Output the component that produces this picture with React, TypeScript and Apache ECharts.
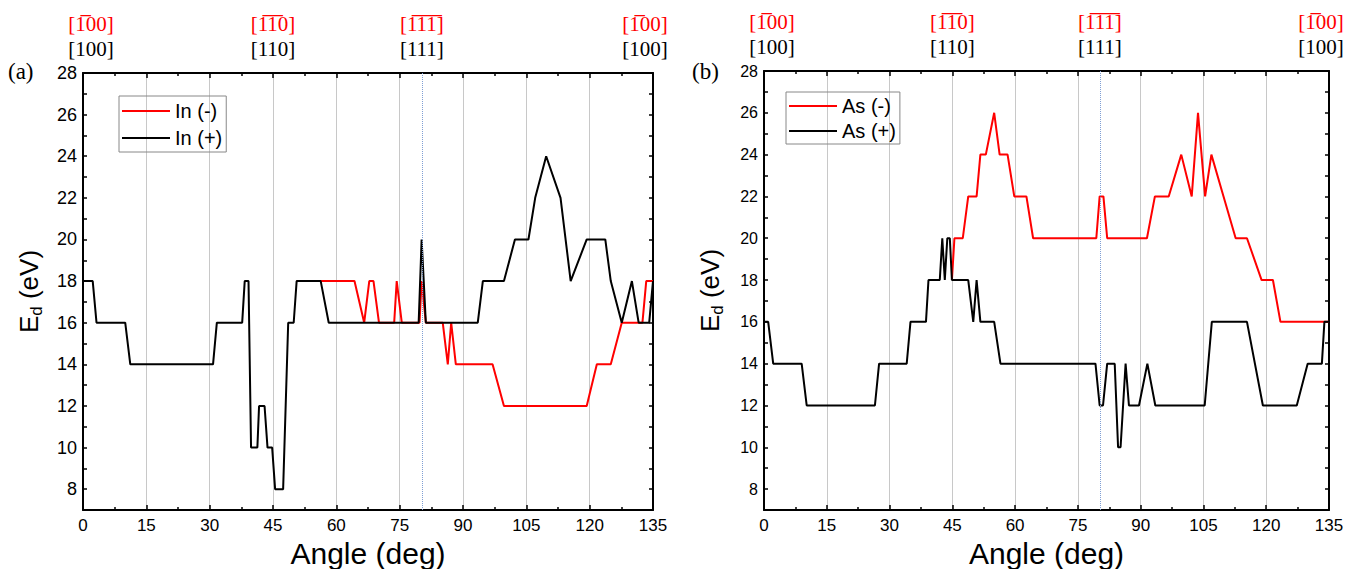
import React, { useEffect, useRef } from 'react';
import * as echarts from 'echarts';

// Panel (a): In  (red drawn only where it departs from black; black lies on top elsewhere)
const inMinus: [number, number][] = [
  [50.6, 18], [64.3, 18], [66.6, 16], [67.8, 18], [68.8, 18], [70.1, 16], [73.7, 16], [74.3, 18], [75.5, 16], [79.7, 16],
  [80.2, 18], [81.2, 16], [85.2, 16], [86.4, 14], [87.2, 16], [88.3, 14], [97, 14], [99.7, 12], [119.3, 12], [121.7, 14],
  [125, 14], [127.6, 16], [132.5, 16], [133.4, 18], [135, 18],
];
const inPlus: [number, number][] = [
  [0, 18], [2.3, 18], [3.2, 16], [10, 16], [11.2, 14], [30.8, 14], [31.7, 16], [37.7, 16], [38.3, 18], [39.2, 18],
  [39.8, 10], [41.3, 10], [41.7, 12], [43, 12], [43.7, 10], [44.8, 10], [45.5, 8], [47.4, 8], [48.6, 16], [49.9, 16],
  [50.6, 18], [56.3, 18], [58.2, 16], [79.5, 16], [80.2, 20], [81.2, 16], [93.5, 16], [94.7, 18], [99.7, 18], [102.3, 20],
  [105.5, 20], [107.1, 22], [109.7, 24], [113.1, 22], [115.5, 18], [119.3, 20], [123.7, 20], [125, 18], [127.6, 16], [130, 18],
  [131.6, 16], [134.1, 16], [135, 18],
];

// Panel (b): As
const asMinus: [number, number][] = [
  [44.9, 18], [45.5, 20], [47.5, 20], [48.8, 22],
  [50.8, 22], [51.7, 24], [53, 24], [55, 26], [56.3, 24], [58.2, 24], [59.8, 22], [62.7, 22], [64.3, 20], [79.4, 20],
  [80.2, 22], [81.1, 22], [82, 20], [91.5, 20], [93.4, 22], [96.7, 22], [99.7, 24], [102.2, 22], [103.7, 26], [105.4, 22],
  [106.9, 24], [109.8, 22], [112.7, 20], [115.4, 20], [118.9, 18], [121.6, 18], [123.4, 16], [135, 16],
];
const asPlus: [number, number][] = [
  [0, 16], [1, 16], [2.2, 14], [9, 14], [10.2, 12], [26.5, 12], [27.5, 14], [34.1, 14], [35, 16], [38.7, 16],
  [39.3, 18], [42, 18], [42.6, 20], [43.2, 18], [43.8, 20], [44.4, 20], [44.9, 18], [48.8, 18], [50, 16], [50.8, 18],
  [51.7, 16], [55, 16], [56.5, 14], [79.2, 14], [80.2, 12], [81, 12], [82, 14], [83.8, 14], [84.6, 10], [85.2, 10],
  [86.4, 14], [87.2, 12], [89.6, 12], [91.6, 14], [93.5, 12], [105.3, 12], [107, 16], [115.4, 16], [119.2, 12], [127.3, 12],
  [129.9, 14], [133.3, 14], [133.9, 16], [135, 16],
];

const dirAngles = [0, 45, 80.26, 135];
const dirLabelsMinus = ['[1\u030500]', '[1\u03051\u03050]', '[1\u03051\u03051\u0305]', '[1\u030500]'];
const dirLabelsPlus = ['[100]', '[110]', '[111]', '[100]'];
const panelTags = ['(a)', '(b)'];
const legendNames = [['In (-)', 'In (+)'], ['As (-)', 'As (+)']];

const SANS = 'Liberation Sans';
const SERIF = 'Liberation Serif';

export default function App() {
  const ref = useRef<HTMLDivElement>(null);
  useEffect(() => {
    if (!ref.current) return;
    const chart = echarts.init(ref.current, undefined, { renderer: 'svg' });

    const grids = [
      { left: 83, width: 570, top: 73, bottom: 59 },
      { left: 764, width: 565, top: 71, bottom: 59 },
    ];
    const yLabelSize = [18, 16];
    const xAxes: any[] = [];
    const yAxes: any[] = [];
    const series: any[] = [];
    const axisLine = { show: true, onZero: false, lineStyle: { color: '#000', width: 2 } };
    const tickLine = { color: '#000', width: 1.5 };
    const rStyle = { color: '#ff0000', fontSize: 21, fontFamily: SERIF, lineHeight: 26 };
    const bStyle = { color: '#000', fontSize: 21, fontFamily: SERIF, lineHeight: 24 };

    grids.forEach((_, g) => {
      xAxes.push({
        gridIndex: g, type: 'value', min: 0, max: 135, interval: 15, position: 'bottom',
        axisLine, axisTick: { inside: true, length: 5, lineStyle: tickLine },
        minorTick: { show: true, splitNumber: 2, length: 3, lineStyle: tickLine },
        axisLabel: { fontSize: 17, color: '#000', fontFamily: SANS, margin: 7 },
        splitLine: { show: true, lineStyle: { color: '#c8c8c8', width: 1 } },
        name: 'Angle (deg)', nameLocation: 'middle', nameGap: 25,
        nameTextStyle: { fontSize: 30, color: '#000', fontFamily: SANS },
      });
      xAxes.push({
        gridIndex: g, type: 'value', min: 0, max: 135, interval: 15, position: 'top',
        axisLine, axisTick: { inside: true, length: 5, lineStyle: tickLine },
        minorTick: { show: true, splitNumber: 2, length: 3, lineStyle: tickLine },
        axisLabel: { show: false }, splitLine: { show: false },
      });
      xAxes.push({
        gridIndex: g, type: 'value', min: 0, max: 135, position: 'top',
        axisLine: { show: false }, axisTick: { show: false }, splitLine: { show: false },
        axisLabel: {
          customValues: dirAngles, showMinLabel: true, showMaxLabel: true, hideOverlap: false, margin: 12,
          formatter: (v: number) => {
            let i = dirAngles.findIndex((a) => Math.abs(a - v) < 1e-6);
            if (i < 0) i = 0;
            const k = i === 0 ? 'L' : i === dirAngles.length - 1 ? 'R' : 'C';
            return `{r${k}|${dirLabelsMinus[i]}}\n{b${k}|${dirLabelsPlus[i]}}`;
          },
          rich: {
            rC: rStyle, bC: bStyle,
            rL: { ...rStyle, padding: [0, 0, 0, 16] }, bL: { ...bStyle, padding: [0, 0, 0, 16] },
            rR: { ...rStyle, padding: [0, 16, 0, 0] }, bR: { ...bStyle, padding: [0, 16, 0, 0] },
          },
        },
      });
      const yBase = { gridIndex: g, type: 'value', min: 7, max: 28, interval: 1, splitLine: { show: false } };
      yAxes.push({
        ...yBase, position: 'left', axisLine,
        axisTick: { inside: true, length: 4, lineStyle: tickLine },
        axisLabel: {
          fontSize: yLabelSize[g], color: '#000', fontFamily: SANS, margin: 6,
          formatter: (v: number) => (v % 2 === 0 ? String(v) : ''),
        },
        name: '{e|E}{s|d}{e| (eV)}', nameLocation: 'middle', nameRotate: 90, nameGap: 38,
        nameTextStyle: {
          rich: {
            e: { fontSize: 26, color: '#000', fontFamily: SANS, verticalAlign: 'top' },
            s: { fontSize: 17, color: '#000', fontFamily: SANS, verticalAlign: 'top', padding: [12, 0, 0, 0] },
          },
        },
      });
      yAxes.push({
        ...yBase, position: 'right', axisLine,
        axisTick: { inside: true, length: 4, lineStyle: tickLine },
        axisLabel: { show: false },
      });
      const minus = g === 0 ? inMinus : asMinus;
      const plus = g === 0 ? inPlus : asPlus;
      series.push({
        type: 'line', name: legendNames[g][0], xAxisIndex: g * 3, yAxisIndex: g * 2, data: minus,
        symbol: 'none', lineStyle: { color: '#ff0000', width: 2 }, itemStyle: { color: '#ff0000' }, z: 3,
      });
      series.push({
        type: 'line', name: legendNames[g][1], xAxisIndex: g * 3, yAxisIndex: g * 2, data: plus,
        symbol: 'none', lineStyle: { color: '#000', width: 2 }, itemStyle: { color: '#000' }, z: 4,
        markLine: {
          silent: true, symbol: ['none', 'none'], label: { show: false },
          lineStyle: { type: 'dotted', color: '#7f9fd4', width: 1 },
          data: [{ xAxis: dirAngles[2] }],
        },
      });
    });

    const legendText = { fontSize: 20, color: '#000', fontFamily: SANS };
    chart.setOption({
      animation: false,
      backgroundColor: '#fff',
      grid: grids.map((g) => ({ ...g, containLabel: false, outerBoundsMode: 'none' })),
      xAxis: xAxes,
      yAxis: yAxes,
      series,
      title: [
        { text: panelTags[0], left: 8, top: 60, padding: 0, textStyle: { fontFamily: SERIF, fontSize: 23, fontWeight: 'normal', color: '#000' } },
        { text: panelTags[1], left: 692, top: 60, padding: 0, textStyle: { fontFamily: SERIF, fontSize: 23, fontWeight: 'normal', color: '#000' } },
      ],
      legend: [
        {
          data: legendNames[0].map((n) => ({ name: n, icon: 'rect' })), left: 119, top: 96, orient: 'vertical',
          itemWidth: 48, itemHeight: 2, itemGap: 7,
          borderColor: '#888', borderWidth: 1, padding: [5, 4, 4, 3], textStyle: legendText,
        },
        {
          data: legendNames[1].map((n) => ({ name: n, icon: 'rect' })), left: 786, top: 92, orient: 'vertical',
          itemWidth: 48, itemHeight: 2, itemGap: 5,
          borderColor: '#888', borderWidth: 1, padding: [4, 4, 3, 3], textStyle: legendText,
        },
      ],
    });
    return () => chart.dispose();
  }, []);
  return <div ref={ref} style={{ position: 'fixed', left: 0, top: 0, width: 1347, height: 569, background: '#fff' }} />;
}
